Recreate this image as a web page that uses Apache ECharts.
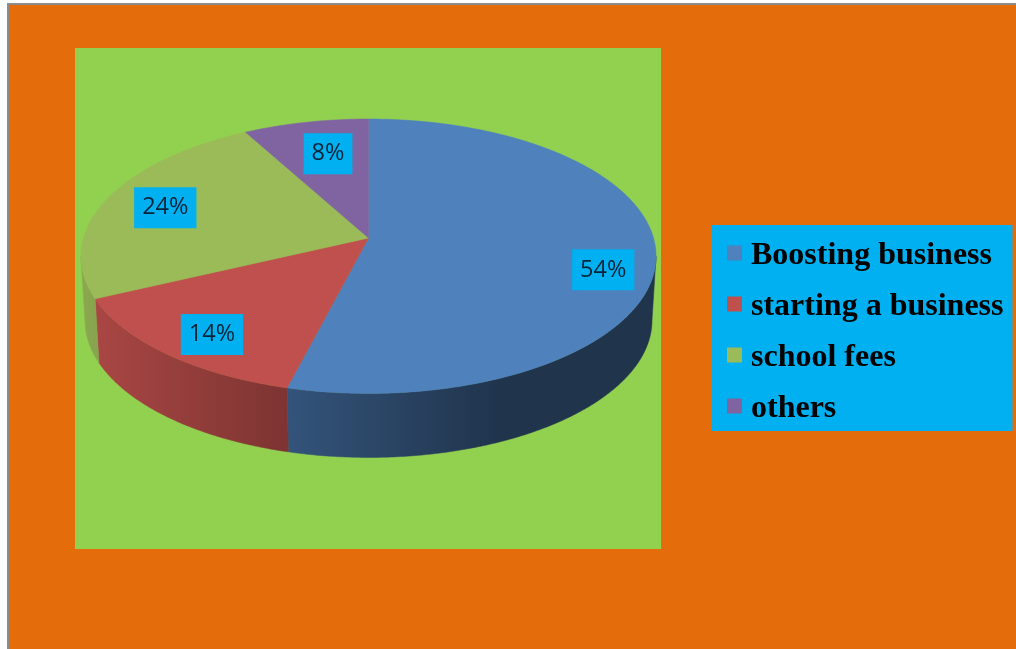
<!DOCTYPE html>
<html>
<head>
<meta charset="utf-8">
<style>html,body{margin:0;padding:0;background:#fff}#chart{width:1016px;height:649px}</style>
<script src="https://cdn.jsdelivr.net/npm/echarts@6/dist/echarts.min.js"></script>
</head>
<body>
<div id="chart"></div>
<script>
// Uses of the money, in percent of respondents
const categories = ['Boosting business', 'starting a business', 'school fees', 'others'];
const shares = [54, 14, 24, 8];
const sliceColors = ['#4f81bd', '#c0504d', '#9bbb59', '#8064a2'];
const labelNudges = [[20, 19], [-9, 12], [-6, 0], [8, 5]];

// Perspective disc: top face and a slightly smaller, lower bottom face
const disc = { cx: 368.5, perspective: 0.1329, squash: 134.8 };
const topFace = { cy: 238, radius: 285 };
const bottomFace = { cy: 302, radius: 281 };
const labelRadius = 0.75;
const total = shares.reduce((a, b) => a + b, 0);

function project(face, theta, r) {
  const depth = r * Math.cos(theta);
  const s = 1 / (1 + disc.perspective * depth);
  return [
    disc.cx + face.radius * r * Math.sin(theta) * s,
    face.cy - disc.squash * r * Math.cos(theta) * s
  ];
}

function arc(face, from, to) {
  const steps = Math.max(2, Math.ceil(Math.abs(to - from) / 0.01));
  const pts = [];
  for (let i = 0; i <= steps; i++) pts.push(project(face, from + (to - from) * i / steps, 1));
  return pts;
}

// Side wall brightness falls off from left to right, then stays flat
function wallShade(x) {
  const stops = [[85, 0.89], [288, 0.65], [500, 0.4], [660, 0.4]];
  for (let i = 1; i < stops.length; i++) {
    if (x <= stops[i][0]) {
      const t = Math.max(0, (x - stops[i - 1][0]) / (stops[i][0] - stops[i - 1][0]));
      return stops[i - 1][1] + (stops[i][1] - stops[i - 1][1]) * t;
    }
  }
  return stops[stops.length - 1][1];
}

function shaded(hex, k) {
  const n = parseInt(hex.slice(1), 16);
  return 'rgb(' + [n >> 16, (n >> 8) & 255, n & 255].map(v => Math.round(v * k)).join(',') + ')';
}

function wallFill(color, x0, x1) {
  const colorStops = [];
  for (let i = 0; i <= 12; i++) {
    colorStops.push({ offset: i / 12, color: shaded(color, wallShade(x0 + (x1 - x0) * i / 12)) });
  }
  return new echarts.graphic.LinearGradient(x0, 0, x1, 0, colorStops, true);
}

// Only the near half of the rim is visible, bounded by the widest points of the ellipse
const rimStart = Math.acos(-disc.perspective);
const rimEnd = 2 * Math.PI - rimStart;

function renderSlice(index) {
  return function (params, api) {
    const before = shares.slice(0, index).reduce((a, b) => a + b, 0);
    const from = before / total * 2 * Math.PI;
    const to = (before + api.value(0)) / total * 2 * Math.PI;
    const color = sliceColors[index];
    const children = [];

    const a = Math.max(from, rimStart), b = Math.min(to, rimEnd);
    if (b > a) {
      const upper = arc(topFace, a, b);
      const lower = arc(bottomFace, a, b).reverse();
      const xs = upper.concat(lower).map(p => p[0]);
      const x0 = Math.min.apply(null, xs), x1 = Math.max.apply(null, xs);
      const fill = wallFill(color, x0, x1);
      children.push({
        type: 'polygon',
        shape: { points: upper.concat(lower) },
        style: { fill: fill, stroke: fill, lineWidth: 0.5 }
      });
    }

    children.push({
      type: 'polygon',
      shape: { points: [project(topFace, 0, 0)].concat(arc(topFace, from, to)) },
      style: { fill: color, stroke: color, lineWidth: 0.5 }
    });

    const mid = project(topFace, (from + to) / 2, labelRadius);
    children.push({
      type: 'text',
      z2: 10,
      style: {
        x: mid[0] + labelNudges[index][0],
        y: mid[1] + labelNudges[index][1],
        text: api.value(0) + '%',
        font: '23.5px "Open Sans"',
        fill: '#04243a',
        align: 'center',
        verticalAlign: 'middle',
        backgroundColor: '#00b0f0',
        padding: [8, 8, 9, 8]
      }
    });
    return { type: 'group', children: children };
  };
}

const legendText = {
  fontFamily: '"Liberation Serif"',
  fontWeight: 'bold',
  fontSize: 32,
  lineHeight: 30,
  color: '#000'
};

const chart = echarts.init(document.getElementById('chart'), null, { renderer: 'canvas' });
chart.setOption({
  animation: false,
  backgroundColor: '#ffffff',
  graphic: [
    { type: 'rect', z: -2, shape: { x: 8, y: 4, width: 1020, height: 660 },
      style: { fill: '#e46c0a', stroke: '#8c8c8c', lineWidth: 2 } },
    { type: 'rect', z: -1, shape: { x: 75, y: 48, width: 586, height: 501 },
      style: { fill: '#92d050' } }
  ],
  legend: {
    left: 712,
    top: 225,
    orient: 'vertical',
    data: categories,
    icon: 'rect',
    itemWidth: 15,
    itemHeight: 15,
    itemGap: 13,
    selectedMode: false,
    backgroundColor: '#00b0f0',
    padding: [9, 9, 6, 15],
    formatter: name => '{entry|' + name + '}',
    textStyle: Object.assign({}, legendText, {
      padding: [0, 0, 0, 4],
      rich: { entry: Object.assign({}, legendText, { padding: [6, 0, 0, 0] }) }
    })
  },
  series: categories.map((name, i) => ({
    type: 'custom',
    name: name,
    coordinateSystem: 'none',
    itemStyle: { color: sliceColors[i] },
    renderItem: renderSlice(i),
    data: [[shares[i]]]
  }))
});
</script>
</body>
</html>
